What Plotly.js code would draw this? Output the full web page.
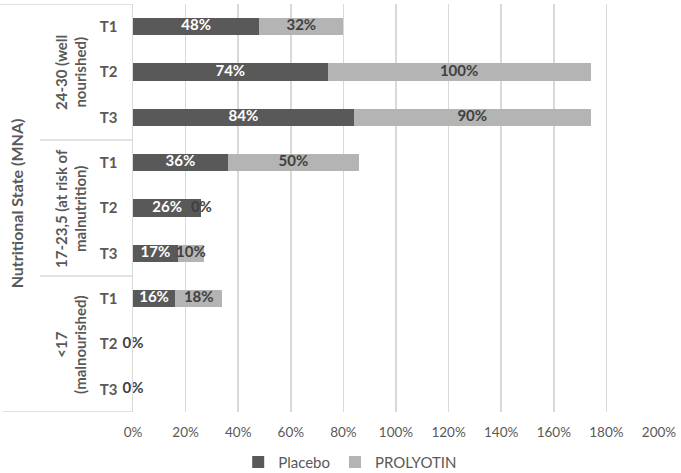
<!DOCTYPE html>
<html>
<head>
<meta charset="utf-8">
<script src="https://cdn.plot.ly/plotly-3.0.1.min.js"></script>
<style>html,body{margin:0;padding:0;background:#fff;}#chart{width:681px;height:473px;}</style>
</head>
<body>
<div id="chart"></div>
<script>
// ---- data ----
var groups = ["24-30 (well<br>nourished)", "17-23,5 (at risk of<br>malnutrition)", "<17<br>(malnourished)"];
var times = ["T1", "T2", "T3"];
var placebo = [48, 74, 84, 36, 26, 17, 16, 0, 0];
var prolyotin = [32, 100, 90, 50, 0, 10, 18, 0, 0];
var xTicks = [0, 20, 40, 60, 80, 100, 120, 140, 160, 180, 200];
var yTitle = "Nutritional State (MNA)";
var seriesNames = ["Placebo", "PROLYOTIN"];

// ---- build ----
var FONT = "Lato, sans-serif";
var DARK = "#595959", LIGHT = "#b4b4b4", LINE = "#d9d9d9", TXT = "#595959";
var rows = [], rowText = [];
groups.forEach(function (g, gi) { times.forEach(function (t, ti) { rows.push(gi * times.length + ti); rowText.push(t); }); });

var pct = function (v) { return v + "%"; };
var traces = [
  { type: "bar", orientation: "h", name: seriesNames[0], y: rows, x: placebo,
    marker: { color: DARK }, hoverinfo: "none", textposition: "none" },
  { type: "bar", orientation: "h", name: seriesNames[1], y: rows, x: prolyotin,
    marker: { color: LIGHT }, hoverinfo: "none", textposition: "none" },
  { type: "scatter", mode: "text", showlegend: false, hoverinfo: "none", cliponaxis: false,
    y: rows, x: placebo.map(function (v) { return v / 2; }),
    text: placebo.map(function (v) { return v ? pct(v) : ""; }),
    textfont: { family: FONT, size: 15, color: "#ffffff", weight: "bold" } },
  { type: "scatter", mode: "text", showlegend: false, hoverinfo: "none", cliponaxis: false,
    y: rows, x: placebo.map(function (v, i) { return v + prolyotin[i] / 2; }),
    text: prolyotin.map(pct),
    textfont: { family: FONT, size: 15, color: "#404040", weight: "bold" } }
];

var n = rows.length, per = times.length;
var shapes = [];
var lineLeft = { top: -0.253, sep: -0.177, bottom: -0.247 };
shapes.push({ type: "line", xref: "paper", yref: "y", x0: lineLeft.top, x1: 0, y0: -0.5, y1: -0.5, line: { color: LINE, width: 1.3 } });
shapes.push({ type: "line", xref: "paper", yref: "y", x0: lineLeft.bottom, x1: 0, y0: n - 0.5, y1: n - 0.5, line: { color: LINE, width: 1.3 } });
for (var k = 1; k < groups.length; k++) {
  shapes.push({ type: "line", xref: "paper", yref: "y", x0: lineLeft.sep, x1: 0, y0: k * per - 0.5, y1: k * per - 0.5, line: { color: LINE, width: 1.3 } });
}

var annotations = groups.map(function (g, gi) {
  return { text: g, xref: "paper", yref: "y", x: -0.118, y: gi * per + (per - 1) / 2,
    xanchor: "center", yanchor: "middle", textangle: -90, showarrow: false,
    font: { family: FONT, size: 15, color: TXT, weight: "bold" } };
});
annotations.push({ text: yTitle, xref: "paper", yref: "paper", x: -0.222, y: 0.512,
  xanchor: "center", yanchor: "middle", textangle: -90, showarrow: false,
  font: { family: FONT, size: 16, color: TXT, weight: "bold" } });

var layout = {
  width: 681, height: 473,
  margin: { l: 133, r: 22, t: 4, b: 61, autoexpand: false },
  paper_bgcolor: "#ffffff", plot_bgcolor: "#ffffff",
  barmode: "stack", bargap: 0.62,
  font: { family: FONT, color: TXT },
  showlegend: true,
  legend: { orientation: "h", x: 0.2, xanchor: "left", y: -0.123, yanchor: "middle",
    font: { family: FONT, size: 15, color: TXT }, traceorder: "normal", itemwidth: 30 },
  xaxis: { range: [0, 200], tickvals: xTicks, ticktext: xTicks.map(pct), showgrid: true, gridcolor: LINE, gridwidth: 1.5,
    zeroline: false, showline: false, ticks: "", ticklabelstandoff: 10, tickangle: 0, automargin: false,
    tickfont: { family: FONT, size: 13.5, color: TXT }, fixedrange: true },
  yaxis: { range: [n - 0.5, -0.5], tickvals: rows, ticktext: rowText, showgrid: false, zeroline: false, automargin: false,
    showline: true, linecolor: LINE, linewidth: 1.5, ticks: "", ticklabelstandoff: 11,
    tickfont: { family: FONT, size: 15, color: TXT, weight: "bold" }, fixedrange: true },
  shapes: shapes, annotations: annotations
};
Plotly.newPlot("chart", traces, layout, { displayModeBar: false, staticPlot: true });
</script>
</body>
</html>
